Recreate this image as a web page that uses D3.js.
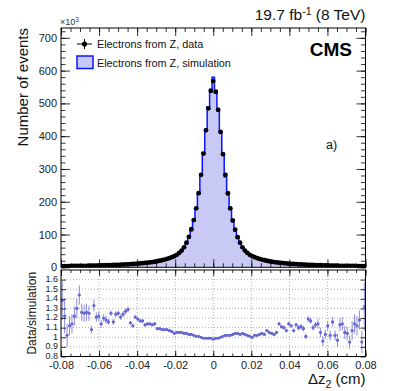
<!DOCTYPE html>
<html><head><meta charset="utf-8">
<script src="https://cdn.jsdelivr.net/npm/d3@7"></script>
<style>
body{margin:0;background:#fff;}
svg{display:block;font-family:"Liberation Sans",Arial,Helvetica,sans-serif;}
</style></head>
<body><svg id="c" width="407" height="391"></svg>
<script>
// ---- data (counts in units of 10^3) ----
const binLow = -0.08, binHigh = 0.08;
const dataCounts = [3.5,3.6,3.7,3.8,3.9,4.0,4.1,4.2,4.3,4.5,4.6,4.8,4.9,5.1,5.3,5.5,5.7,5.9,6.2,6.4,
 6.7,7.0,7.3,7.6,7.9,8.3,8.7,9.1,9.6,10.1,10.6,11.2,11.8,12.5,13.2,14.0,15.0,16.0,17.0,18.5,
 20.0,21.5,23.5,25.5,28,31,34,38,44,51,61,75,93,116,144,180,226,282,347,418,485,538,
 568,
 535,480,413,345,282,226,180,143,115,92,75,61,51,44,38,34,31,28,25.5,23.5,21.5,20,
 18.5,17,16,15,14,13.2,12.5,11.8,11.2,10.6,10.1,9.6,9.1,8.7,8.3,7.9,7.6,7.3,7.0,6.7,
 6.4,6.2,5.9,5.7,5.5,5.3,5.1,4.9,4.8,4.6,4.5,4.3,4.2,4.1,4.0,3.9,3.8,3.7,3.6,3.5];
const simCounts = [2.5,3.0,3.6,3.4,3.4,3.3,3.2,2.9,3.4,3.6,3.7,3.8,4.5,3.8,4.4,4.5,5.0,4.9,5.3,5.5,
 5.4,6.0,5.9,6.1,6.5,6.7,6.9,7.1,8.3,9.0,8.8,9.4,10.1,10.7,11.7,12.3,13.2,14.2,14.9,17.0,
 18.3,19.9,21.8,23.6,26.2,29.2,32.7,36.2,41.9,48.6,58.7,72.1,90.3,112.6,141.2,178.2,223.8,282.0,350.5,422.2,489.9,543.4,
 579.6,
 540.4,484.8,413.0,341.6,276.5,221.6,176.5,138.8,110.6,88.5,72.8,58.7,49.5,43.1,37.6,34.0,30.4,27.5,24.8,22.6,20.9,18.7,
 17.6,16.3,15.5,14.3,12.3,11.9,11.4,11.0,9.8,9.5,9.4,8.5,8.3,7.8,7.6,7.8,6.4,6.2,6.4,5.9,
 5.6,5.9,6.1,5.5,4.9,5.2,4.4,4.8,4.9,4.1,3.9,4.1,4.0,4.3,3.7,3.4,3.4,3.1,3.8,2.7];
const ratio = [1.38,1.22,1.02,1.12,1.14,1.22,1.30,1.44,1.26,1.25,1.26,1.25,1.08,1.33,1.21,1.22,1.14,1.20,1.18,1.16,
 1.25,1.16,1.24,1.25,1.21,1.24,1.27,1.29,1.15,1.12,1.21,1.19,1.17,1.17,1.13,1.14,1.14,1.13,1.14,1.09,
 1.09,1.08,1.08,1.08,1.07,1.06,1.04,1.05,1.05,1.05,1.04,1.04,1.03,1.03,1.02,1.01,1.01,1.00,0.99,0.99,
 0.99,0.99,0.98,0.99,0.99,1.00,1.01,1.02,1.02,1.02,1.03,1.04,1.04,1.03,1.04,1.03,1.02,1.01,1.00,1.02,
 1.02,1.03,1.04,1.03,1.07,1.05,1.04,1.03,1.05,1.14,1.11,1.10,1.07,1.14,1.12,1.07,1.13,1.10,1.11,1.09,
 1.01,1.19,1.17,1.10,1.13,1.14,1.05,0.96,1.03,1.12,1.02,1.16,1.02,0.97,1.13,1.14,1.05,1.04,0.95,1.07,
 1.14,1.12,1.18,0.95,1.32];
const ratioErr = [0.20,0.18,0.12,0.10,0.10,0.10,0.10,0.10,0.09,0.09,0.09,0.08,
 0.04,0.06,0.05,0.05,0.04,0.04,0.04,
 0.03,0.03,0.03,0.03,0.03,0.03,0.03,0.03,0.03,
 0.02,0.02,0.02,0.02,0.02,0.02,0.02,0.02,
 0.015,0.015,0.015,0.015,0.015,0.015,0.015,0.015,0.015,0.015,
 0.008,0.008,0.008,0.008,0.008,0.008,0.008,0.008,0.008,0.008,0.008,0.008,0.008,0.008,0.008,0.008,0.008,0.008,0.008,0.008,
 0.008,0.008,0.008,0.008,0.008,0.008,0.008,0.008,0.008,0.008,0.008,0.008,0.008,0.008,0.008,
 0.012,0.012,0.012,0.012,0.012,0.012,0.012,0.012,
 0.02,0.02,0.02,0.02,0.02,0.02,0.02,0.02,
 0.03,0.03,0.03,0.03,0.03,0.03,0.03,0.03,
 0.05,0.05,0.05,0.05,0.05,0.05,0.05,0.05,
 0.07,0.07,0.07,0.07,0.07,0.07,
 0.10,0.10,0.10,0.10,0.12,0.25];
const yTicks = [0,100,200,300,400,500,600,700];
const ratioTicks = [0.8,0.9,1,1.1,1.2,1.3,1.4,1.5,1.6];
const xTicks = [-0.08,-0.06,-0.04,-0.02,0,0.02,0.04,0.06,0.08];
const legendLabels = ["Electrons from Z, data","Electrons from Z, simulation"];

// ---- layout ----
const svg = d3.select("#c");
const L = 61, R = 365.5, T = 28, B = 267.3, RT = 270, RB = 356.5;
const x = d3.scaleLinear([binLow, binHigh], [L, R]);
const y = d3.scaleLinear([0, 730], [B, T]);
const yr = d3.scaleLinear([0.8, 1.7], [RB, RT]);
const nb = dataCounts.length, bw = (binHigh - binLow) / nb;
const center = i => binLow + (i + 0.5) * bw;
const font = '"Liberation Sans",Arial,Helvetica,sans-serif';

svg.append("defs").append("clipPath").attr("id","clipTop")
  .append("rect").attr("x",L).attr("y",T).attr("width",R-L).attr("height",B-T);
svg.append("defs").append("clipPath").attr("id","clipR")
  .append("rect").attr("x",L).attr("y",RT).attr("width",R-L).attr("height",RB-RT);

// ---- simulation histogram ----
const steps = simCounts.map((v,i)=>({e: binLow + i*bw, v}));
steps.push({e: binHigh, v: simCounts[nb-1]});
const gTop = svg.append("g").attr("clip-path","url(#clipTop)");
gTop.append("path").datum(steps)
  .attr("d", d3.area().x(d=>x(d.e)).y0(y(0)).y1(d=>y(d.v)).curve(d3.curveStepAfter))
  .attr("fill","#c9c9f6");
gTop.append("path").datum(steps)
  .attr("d", d3.line().x(d=>x(d.e)).y(d=>y(d.v)).curve(d3.curveStepAfter))
  .attr("fill","none").attr("stroke","#0a14ff").attr("stroke-width",1.5);

// ---- data points ----
gTop.selectAll("circle.d").data(dataCounts).join("circle")
  .attr("cx",(d,i)=>x(center(i))).attr("cy",d=>y(d)).attr("r",2.4).attr("fill","#000");

// ---- axes helpers ----
function ticksBetween(a,b,step){const out=[];for(let v=a;v<=b+1e-9;v+=step)out.push(+v.toFixed(6));return out;}
function addAxis(axis, tx, ty){
  const g = svg.append("g").attr("transform",`translate(${tx},${ty})`).call(axis);
  g.select(".domain").remove();
  g.selectAll("line").attr("stroke","#000").attr("stroke-width",0.8);
  g.selectAll("text").attr("font-family",font).attr("fill","#222");
  return g;
}
const xMinor = ticksBetween(-0.08,0.08,0.005);
const yMinor = ticksBetween(0,720,20);

// top panel axes
addAxis(d3.axisLeft(y).tickValues(yTicks).tickSizeInner(-9).tickSizeOuter(0).tickPadding(4)
  .tickFormat(d=>String(d)), L, 0).selectAll("text").attr("font-size",11);
addAxis(d3.axisLeft(y).tickValues(yMinor).tickSize(-4.5).tickFormat(""), L, 0);
addAxis(d3.axisRight(y).tickValues(yTicks).tickSize(-9).tickFormat(""), R, 0);
addAxis(d3.axisRight(y).tickValues(yMinor).tickSize(-4.5).tickFormat(""), R, 0);
addAxis(d3.axisBottom(x).tickValues(xTicks).tickSize(-8).tickFormat(""), 0, B);
addAxis(d3.axisBottom(x).tickValues(xMinor).tickSize(-4).tickFormat(""), 0, B);
addAxis(d3.axisTop(x).tickValues(xTicks).tickSize(-8).tickFormat(""), 0, T);
addAxis(d3.axisTop(x).tickValues(xMinor).tickSize(-4).tickFormat(""), 0, T);
svg.append("rect").attr("x",L).attr("y",T).attr("width",R-L).attr("height",B-T)
  .attr("fill","none").attr("stroke","#000").attr("stroke-width",1);

// ---- ratio panel ----
const grid = svg.append("g").attr("stroke","#9a9a9a").attr("stroke-width",0.8).attr("stroke-dasharray","1,2");
ratioTicks.filter(v=>v>0.8).forEach(v=>grid.append("line").attr("x1",L).attr("x2",R).attr("y1",yr(v)).attr("y2",yr(v)));
xTicks.filter(v=>v>-0.08 && v<0.08).forEach(v=>grid.append("line").attr("x1",x(v)).attr("x2",x(v)).attr("y1",RT).attr("y2",RB));

const gR = svg.append("g").attr("clip-path","url(#clipR)");
const rc = "#6767d2";
ratio.forEach((r,i)=>{
  const cx = x(center(i));
  gR.append("line").attr("x1",cx).attr("x2",cx).attr("y1",yr(r-ratioErr[i])).attr("y2",yr(r+ratioErr[i]))
    .attr("stroke",rc).attr("stroke-width",1).attr("opacity",0.75);
  gR.append("line").attr("x1",x(binLow+i*bw)).attr("x2",x(binLow+(i+1)*bw)).attr("y1",yr(r)).attr("y2",yr(r))
    .attr("stroke",rc).attr("stroke-width",1);
  gR.append("circle").attr("cx",cx).attr("cy",yr(r)).attr("r",1.6).attr("fill",rc);
});

addAxis(d3.axisLeft(yr).tickValues(ratioTicks).tickSizeInner(-5).tickSizeOuter(0).tickPadding(3)
  .tickFormat(d=>String(d)), L, 0).selectAll("text").attr("font-size",9).attr("dy","0.2em");
addAxis(d3.axisRight(yr).tickValues(ratioTicks).tickSize(-5).tickFormat(""), R, 0);
addAxis(d3.axisBottom(x).tickValues(xTicks).tickSizeInner(-6).tickSizeOuter(0).tickPadding(5)
  .tickFormat(d=> d===0 ? "0" : d3.format(".2f")(d).replace("\u2212","-")), 0, RB)
  .selectAll("text").attr("font-size",11);
addAxis(d3.axisBottom(x).tickValues(xMinor).tickSize(-3).tickFormat(""), 0, RB);
addAxis(d3.axisTop(x).tickValues(xTicks).tickSize(-6).tickFormat(""), 0, RT);
addAxis(d3.axisTop(x).tickValues(xMinor).tickSize(-3).tickFormat(""), 0, RT);
svg.append("rect").attr("x",L).attr("y",RT).attr("width",R-L).attr("height",RB-RT)
  .attr("fill","none").attr("stroke","#000").attr("stroke-width",1);

// ---- texts ----
const t1 = svg.append("text").attr("x",R).attr("y",20).attr("text-anchor","end")
  .attr("font-size",15.5).attr("fill","#111");
t1.append("tspan").text("19.7 fb");
t1.append("tspan").attr("dy",-5).attr("font-size",10.5).text("-1");
t1.append("tspan").attr("dy",5).text(" (8 TeV)");

const t2 = svg.append("text").attr("x",L-1).attr("y",25).attr("font-size",9).attr("fill","#333");
t2.append("tspan").text("\u00d710");
t2.append("tspan").attr("dy",-3).attr("font-size",6.5).text("3");

svg.append("text").attr("x",352).attr("y",56).attr("text-anchor","end")
  .attr("font-size",19).attr("font-weight","bold").attr("fill","#000").text("CMS");
svg.append("text").attr("x",326).attr("y",149).attr("font-size",12.5).attr("fill","#111").text("a)");

svg.append("text").attr("transform","translate(28,28) rotate(-90)").attr("text-anchor","end")
  .attr("font-size",15).attr("fill","#111").text("Number of events");
svg.append("text").attr("transform",`translate(35.5,${(RT+RB)/2}) rotate(-90)`).attr("text-anchor","middle")
  .attr("font-size",12).attr("fill","#111").text("Data/simulation");

const t3 = svg.append("text").attr("x",R).attr("y",384).attr("text-anchor","end")
  .attr("font-size",15).attr("fill","#111");
t3.append("tspan").text("\u0394z");
t3.append("tspan").attr("dy",3.5).attr("font-size",10.5).text("2");
t3.append("tspan").attr("dy",-3.5).text(" (cm)");

// ---- legend ----
const lg = svg.append("g");
lg.append("line").attr("x1",77).attr("x2",92).attr("y1",44).attr("y2",44).attr("stroke","#000").attr("stroke-width",1);
lg.append("line").attr("x1",84.5).attr("x2",84.5).attr("y1",39).attr("y2",49).attr("stroke","#000").attr("stroke-width",1);
lg.append("circle").attr("cx",84.5).attr("cy",44).attr("r",2.6).attr("fill","#000");
lg.append("rect").attr("x",77).attr("y",56).attr("width",16).attr("height",12.5)
  .attr("fill","#c9c9f6").attr("stroke","#0a14ff").attr("stroke-width",1.5);
lg.selectAll("text.l").data(legendLabels).join("text")
  .attr("x",97).attr("y",(d,i)=>48+i*18.5).attr("font-size",10.8).attr("fill","#111").text(d=>d);
</script></body></html>
